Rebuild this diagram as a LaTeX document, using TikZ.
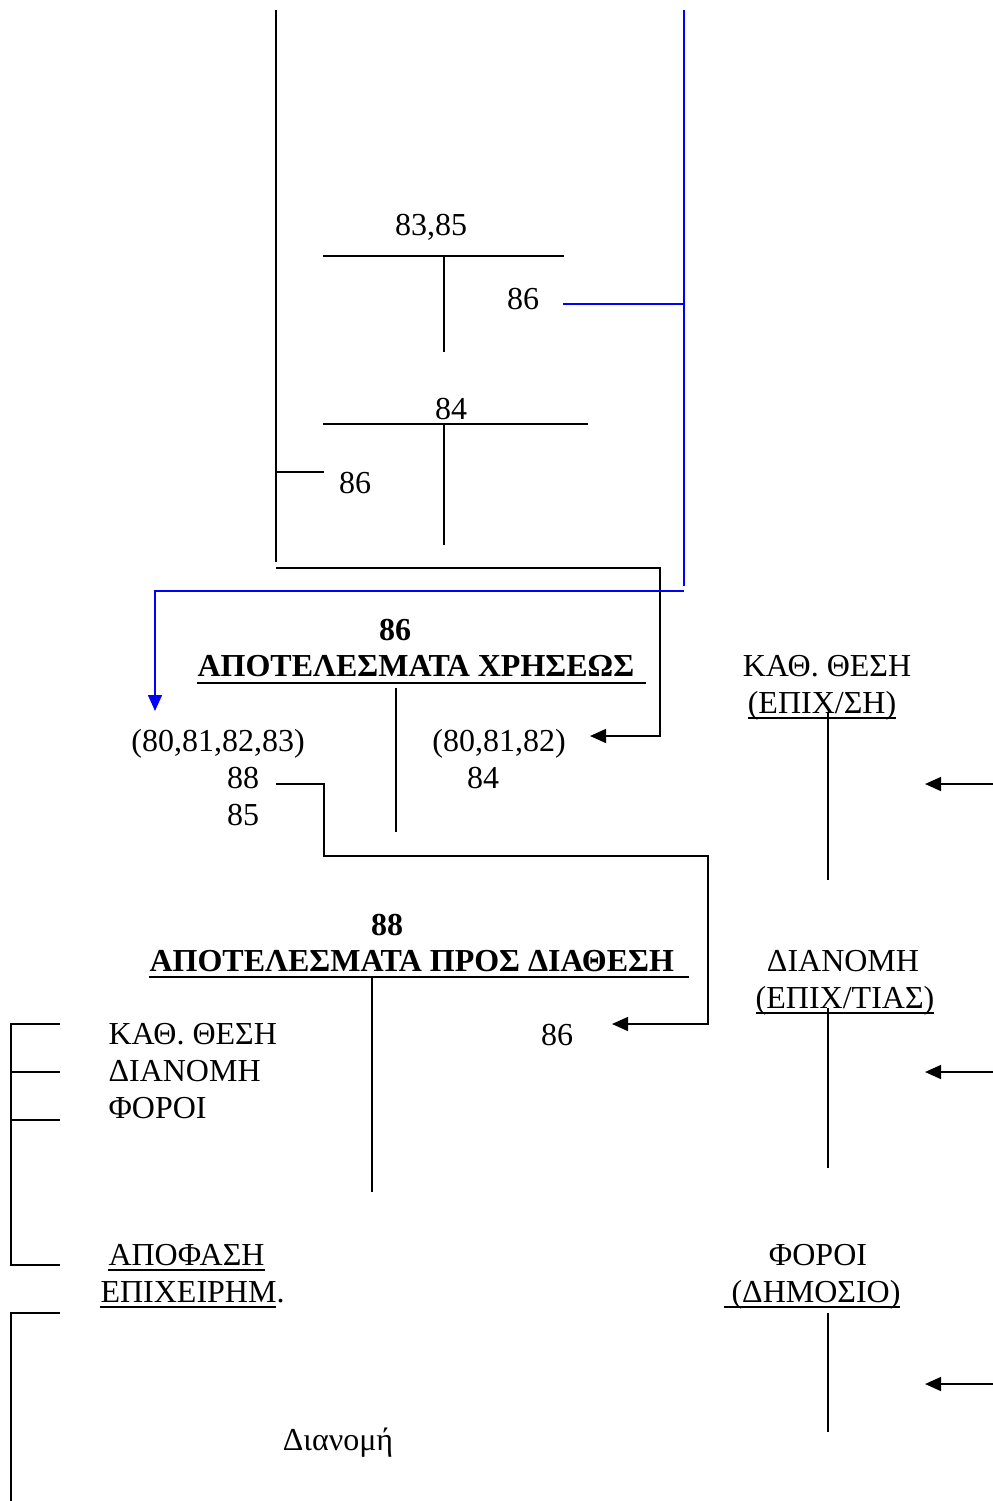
\documentclass[tikz,border=0pt]{standalone}
\usepackage{fontspec}
\setmainfont{Liberation Serif}
\usetikzlibrary{arrows.meta}
\begin{document}
\begin{tikzpicture}[x=0.375pt,y=-0.375pt,
  font=\fontsize{12pt}{14pt}\selectfont,
  txt/.style={inner sep=0pt, anchor=base},
  txtl/.style={inner sep=0pt, anchor=base west},
  hd/.style={inner sep=0pt, anchor=base, font=\fontsize{12pt}{14pt}\selectfont\bfseries},
  ln/.style={line width=0.75pt, black},
  bl/.style={line width=0.75pt, blue},
  tip/.style={-{Triangle[length=6pt,width=5.2pt]}}]
\useasboundingbox (0,0) rectangle (993,1501);

% ---------- top T-accounts ----------
\node[txt] (t1) at (431,236) {83,85};
\node[txt] (t1r) at (523,309) {86};
\node[txt] (t2) at (451,419) {84};
\node[txt] (t2l) at (355,493) {86};
\draw[ln] (323,256) -- (564,256);
\draw[ln] (444,256) -- (444,352);
\draw[ln] (323,424) -- (588,424);
\draw[ln] (444,424) -- (444,545);

% left black frame
\coordinate (ltop) at (276,10);
\coordinate (lbot) at (276,562);
\coordinate (lbr) at (324,472);
\draw[ln] (ltop) -- (lbot);
\draw[ln] (276,472) -- (lbr);

% black connector 84 -> (80,81,82)
\coordinate (k1) at (276,568);
\coordinate (karr) at (590,736);
\draw[ln,tip] (k1) -- (660,568) -- (660,736) -- (karr);

% blue connector 86 -> (80,81,82,83)
\coordinate (b0) at (563,304);
\coordinate (btop) at (684,10);
\coordinate (bbot) at (684,586);
\coordinate (barr) at (155,711);
\draw[bl] (btop) -- (bbot);
\draw[bl] (b0) -- (684,304);
\draw[bl,tip] (684,591) -- (155,591) -- (barr);

% ---------- account 86 ----------
\node[hd] (h86) at (395,640) {86};
\node[inner sep=0pt, anchor=base west, font=\fontsize{12pt}{14pt}\selectfont\bfseries] (hxr) at (197,676) {ΑΠΟΤΕΛΕΣΜΑΤΑ ΧΡΗΣΕΩΣ};
\draw[line width=1.1pt] (197,683) -- (646,683);
\draw[ln] (396,688) -- (396,832);
\node[txt] (a1) at (218,751) {(80,81,82,83)};
\node[txt] (a88) at (243,788) {88};
\node[txt] (a85) at (243,825) {85};
\node[txt] (a2) at (499,751) {(80,81,82)};
\node[txt] (a84) at (483,788) {84};

% connector 88 -> 86
\coordinate (c88) at (276,784);
\coordinate (carr) at (612,1024);
\draw[ln,tip] (c88) -- (324,784) -- (324,856) -- (708,856) -- (708,1024) -- (carr);

% ---------- account 88 ----------
\node[hd] (h88) at (387,935) {88};
\node[inner sep=0pt, anchor=base west, font=\fontsize{12pt}{14pt}\selectfont\bfseries] (hpd) at (149,971) {ΑΠΟΤΕΛΕΣΜΑΤΑ ΠΡΟΣ ΔΙΑΘΕΣΗ};
\draw[line width=1.1pt] (149,977) -- (689,977);
\draw[ln] (372,978) -- (372,1192);
\node[txt] (p86) at (557,1045) {86};

\node[txtl] (l1) at (108,1044) {ΚΑΘ. ΘΕΣΗ};
\node[txtl] (l2) at (108,1081) {ΔΙΑΝΟΜΗ};
\node[txtl] (l3) at (108,1118) {ΦΟΡΟΙ};
\node[txtl] (l4) at (108,1265) {ΑΠΟΦΑΣΗ};
\node[txtl] (l5) at (100,1302) {ΕΠΙΧΕΙΡΗΜ.};
\draw[ln] (108,1270) -- (265,1270);
\draw[ln] (100,1307) -- (276,1307);

% left bracket
\draw[ln] (60,1024) -- (11,1024) -- (11,1265) -- (60,1265);
\draw[ln] (11,1072) -- (60,1072);
\draw[ln] (11,1120) -- (60,1120);
\draw[ln] (60,1313) -- (11,1313) -- (11,1501);

\node[txt] (dn) at (338,1450) {Διανομή};

% ---------- right column ----------
\node[txt] (r1) at (827,676) {ΚΑΘ. ΘΕΣΗ};
\node[txt] (r1b) at (822,713) {(ΕΠΙΧ/ΣΗ)};
\draw[ln] (748,718) -- (896,718);
\draw[ln] (828,712) -- (828,880);
\coordinate (ra1) at (993,784);
\coordinate (rt1) at (925,784);
\draw[ln,tip] (ra1) -- (rt1);

\node[txt] (r2) at (843,971) {ΔΙΑΝΟΜΗ};
\node[txt] (r2b) at (845,1008) {(ΕΠΙΧ/ΤΙΑΣ)};
\draw[ln] (756,1013) -- (934,1013);
\draw[ln] (828,1008) -- (828,1168);
\coordinate (ra2) at (993,1072);
\coordinate (rt2) at (925,1072);
\draw[ln,tip] (ra2) -- (rt2);

\node[txt] (r3) at (818,1265) {ΦΟΡΟΙ};
\node[txt] (r3b) at (816,1302) {(ΔΗΜΟΣΙΟ)};
\draw[ln] (724,1307) -- (900,1307);
\draw[ln] (828,1313) -- (828,1432);
\coordinate (ra3) at (993,1384);
\coordinate (rt3) at (925,1384);
\draw[ln,tip] (ra3) -- (rt3);
\end{tikzpicture}
\end{document}
